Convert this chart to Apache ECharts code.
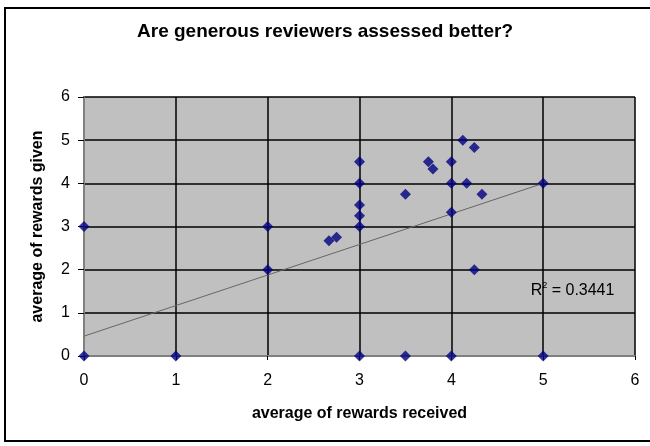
<!DOCTYPE html>
<html><head><meta charset="utf-8">
<script src="https://cdn.jsdelivr.net/npm/echarts@6/dist/echarts.min.js"></script>
<style>html,body{margin:0;padding:0;background:#fff}#c{width:650px;height:446px}</style>
</head><body><div id="c"></div>
<script>
// average of rewards received (x) / average of rewards given (y)
const receivedX = [0, 0, 1, 2, 2, 2.667, 2.75, 3, 3, 3, 3, 3, 3, 3.5, 3.5, 3.75, 3.8, 4, 4, 4, 4, 4.125, 4.167, 4.25, 4.25, 4.333, 5, 5];
const givenY    = [3, 0, 0, 3, 2, 2.667, 2.75, 4.5, 4, 3.5, 3.25, 3, 0, 3.75, 0, 4.5, 4.333, 4.5, 4, 3.333, 0, 5, 4, 4.833, 2, 3.75, 4, 0];
// linear trendline end points
const trendX = [0, 5];
const trendY = [0.46, 4.0];
const xTicks = [0, 1, 2, 3, 4, 5, 6];
const yTicks = [0, 1, 2, 3, 4, 5, 6];
const r2Value = '0.3441';
const titleText = 'Are generous reviewers assessed better?';
const xName = 'average of rewards received';
const yName = 'average of rewards given';

const FONT = "'Liberation Sans', Arial, sans-serif";
const chart = echarts.init(document.getElementById('c'), null, {renderer: 'canvas'});

const points = receivedX.map((x, i) => [x, givenY[i]]);
const trend = trendX.map((x, i) => [x, trendY[i]]);

function axisCommon(ticks) {
  return {
    type: 'value',
    min: ticks[0],
    max: ticks[ticks.length - 1],
    interval: ticks[1] - ticks[0]
  };
}

chart.setOption({
  animation: false,
  backgroundColor: '#ffffff',
  title: {
    text: titleText,
    left: 'center',
    top: 22,
    padding: 0,
    textStyle: {fontFamily: FONT, fontSize: 19, fontWeight: 'bold', color: '#000'}
  },
  graphic: [{
    type: 'rect',
    shape: {x: 5, y: 8, width: 700, height: 433},
    style: {fill: 'none', stroke: '#000', lineWidth: 2},
    silent: true
  }],
  grid: {
    left: 84, right: 15, top: 97, bottom: 90,
    show: true,
    backgroundColor: '#c0c0c0',
    borderWidth: 0
  },
  xAxis: [
    Object.assign(axisCommon(xTicks), {
      position: 'bottom',
      name: xName,
      nameLocation: 'middle',
      nameGap: 50,
      nameTextStyle: {fontFamily: FONT, fontSize: 16, fontWeight: 'bold', color: '#000'},
      axisLine: {show: true, onZero: false, lineStyle: {color: '#000', width: 2}},
      axisTick: {show: true, length: 4, lineStyle: {color: '#000', width: 1}},
      axisLabel: {fontFamily: FONT, fontSize: 16, color: '#000', margin: 17},
      splitLine: {show: true, lineStyle: {color: '#000', width: 1.5}}
    }),
    Object.assign(axisCommon(xTicks), {
      position: 'top',
      axisLine: {show: true, lineStyle: {color: '#808080', width: 2}},
      axisTick: {show: false}, axisLabel: {show: false}, splitLine: {show: false}
    })
  ],
  yAxis: [
    Object.assign(axisCommon(yTicks), {
      position: 'left',
      name: yName,
      nameLocation: 'middle',
      nameRotate: 90,
      nameGap: 38,
      nameTextStyle: {fontFamily: FONT, fontSize: 16, fontWeight: 'bold', color: '#000'},
      axisLine: {show: true, onZero: false, lineStyle: {color: '#000', width: 2}},
      axisTick: {show: true, length: 6, lineStyle: {color: '#000', width: 1}},
      axisLabel: {fontFamily: FONT, fontSize: 16, color: '#000', margin: 14},
      splitLine: {show: true, lineStyle: {color: '#000', width: 1.5}}
    }),
    Object.assign(axisCommon(yTicks), {
      position: 'right',
      axisLine: {show: true, lineStyle: {color: '#808080', width: 2}},
      axisTick: {show: false}, axisLabel: {show: false}, splitLine: {show: false}
    })
  ],
  series: [
    {
      type: 'line',
      xAxisIndex: 0, yAxisIndex: 0,
      data: trend,
      showSymbol: false,
      symbol: 'none',
      lineStyle: {color: '#666666', width: 1},
      z: 2,
      silent: true,
      markPoint: {
        symbol: 'rect',
        symbolSize: 0,
        silent: true,
        data: [{coord: [5.32, 1.52]}],
        label: {
          show: true,
          position: 'inside',
          formatter: '{r|R}{s|2}{r| = ' + r2Value + '}',
          rich: {
            r: {fontFamily: FONT, fontSize: 16, color: '#000', lineHeight: 18},
            s: {fontFamily: FONT, fontSize: 9, color: '#000', verticalAlign: 'top', lineHeight: 18}
          }
        }
      }
    },
    {
      type: 'scatter',
      xAxisIndex: 0, yAxisIndex: 0,
      data: points,
      symbol: 'diamond',
      symbolSize: 11,
      itemStyle: {color: '#000080'},
      clip: false,
      z: 3
    }
  ]
});
</script>
</body></html>
